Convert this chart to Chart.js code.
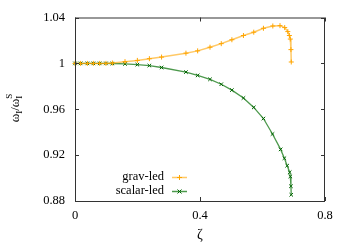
<!DOCTYPE html>
<html>
<head>
<meta charset="utf-8">
<script src="https://cdn.jsdelivr.net/npm/chart.js@4"></script>
<style>
  html, body { margin: 0; padding: 0; background: #fff; }
  canvas { display: block; }
</style>
</head>
<body>
<canvas id="chart" width="350" height="245"></canvas>
<script>
// values
const gravZeta = [0, 0.018, 0.0395, 0.0587, 0.079, 0.099, 0.1195, 0.16, 0.1995, 0.238, 0.277,
  0.355, 0.3925, 0.432, 0.468, 0.502, 0.539, 0.572, 0.603, 0.633, 0.656, 0.671, 0.681,
  0.686, 0.689, 0.691, 0.692];
const gravOmega = [1.0, 1.0, 1.0, 1.0, 1.0, 1.0, 1.0003, 1.0015, 1.0026, 1.0041, 1.0055,
  1.0089, 1.0109, 1.0141, 1.0172, 1.0206, 1.0243, 1.0272, 1.0306, 1.0326, 1.0329, 1.0312, 1.0277,
  1.0243, 1.0212, 1.0120, 1.0012];

const scalarZeta = [0, 0.018, 0.0395, 0.0587, 0.079, 0.099, 0.1195, 0.16, 0.1995, 0.238, 0.277,
  0.355, 0.3925, 0.432, 0.468, 0.502, 0.539, 0.572, 0.603, 0.632, 0.658, 0.670, 0.679,
  0.687, 0.689, 0.691, 0.692];
const scalarOmega = [1.0, 1.0, 1.0, 1.0, 1.0, 1.0, 0.9999, 0.9995, 0.9989, 0.9981, 0.9964,
  0.9924, 0.9895, 0.9861, 0.9818, 0.9767, 0.9698, 0.9616, 0.9519, 0.9384, 0.9250, 0.9173, 0.9108,
  0.9051, 0.9014, 0.8929, 0.8854];

const xTicks = [0, 0.4, 0.8];
const yTicks = [0.88, 0.92, 0.96, 1, 1.04];
const seriesNames = ['grav-led', 'scalar-led'];

const ORANGE = '#ffa500';
const ORANGE_LINE = 'rgba(255,165,0,0.6)';
const GREEN = '#006400';
const GREEN_LINE = 'rgba(0,110,0,0.7)';
const FONT = '"Liberation Serif", "DejaVu Serif", serif';

function toPoints(xs, ys) {
  return xs.map((x, i) => ({ x: x, y: ys[i] }));
}

// border, mirrored inward ticks, axis titles and key, gnuplot style
const framePlugin = {
  id: 'frame',
  afterDraw(chart) {
    const ctx = chart.ctx;
    const a = chart.chartArea;
    const xs = chart.scales.x;
    const ys = chart.scales.y;
    ctx.save();
    ctx.strokeStyle = '#333';
    ctx.lineWidth = 1;
    ctx.strokeRect(a.left + 0.5, a.top + 0.5, a.right - a.left - 1, a.bottom - a.top);
    ctx.beginPath();
    const tl = 4;
    xTicks.forEach(v => {
      const px = Math.round(xs.getPixelForValue(v)) + 0.5;
      ctx.moveTo(px, a.bottom); ctx.lineTo(px, a.bottom - tl);
      ctx.moveTo(px, a.top); ctx.lineTo(px, a.top + tl);
    });
    yTicks.forEach(v => {
      const py = Math.round(ys.getPixelForValue(v)) + 0.5;
      ctx.moveTo(a.left, py); ctx.lineTo(a.left + tl, py);
      ctx.moveTo(a.right, py); ctx.lineTo(a.right - tl, py);
    });
    ctx.stroke();

    // x title
    ctx.fillStyle = '#000';
    ctx.font = '14px ' + FONT;
    ctx.textAlign = 'center';
    ctx.textBaseline = 'middle';
    ctx.fillText('ζ', (a.left + a.right) / 2, 235);

    // y title: ω_I / ω_I^S, rotated
    ctx.save();
    ctx.translate(19, 108);
    ctx.rotate(-Math.PI / 2);
    ctx.textBaseline = 'alphabetic';
    ctx.textAlign = 'left';
    const big = '13px ' + FONT, small = '9px ' + FONT;
    const parts = [
      { t: 'ω', f: big, dy: 0 },
      { t: 'I', f: small, dy: 3 },
      { t: '/ω', f: big, dy: 0 },
      { t: 'I', f: small, dy: 3, keep: true },
      { t: 'S', f: small, dy: -7 }
    ];
    parts.forEach(p => { ctx.font = p.f; p.w = ctx.measureText(p.t).width; });
    const w = parts[0].w + parts[1].w + parts[2].w + Math.max(parts[3].w, parts[4].w);
    let x = -w / 2;
    parts.forEach(p => {
      ctx.font = p.f;
      ctx.fillText(p.t, x, p.dy);
      if (!p.keep) x += p.w;
    });
    ctx.restore();

    // key
    ctx.font = '12.5px ' + FONT;
    ctx.textAlign = 'right';
    ctx.textBaseline = 'middle';
    const keyLines = [ORANGE_LINE, GREEN_LINE];
    const keyMarks = [ORANGE, GREEN];
    const keyRows = [177, 191];
    chart.data.datasets.forEach((ds, i) => {
      const ky = keyRows[i];
      ctx.fillStyle = '#000';
      ctx.fillText(seriesNames[i], 164, ky);
      ctx.strokeStyle = keyLines[i];
      ctx.lineWidth = 1.5;
      ctx.beginPath();
      ctx.moveTo(172, ky + 0.5); ctx.lineTo(187, ky + 0.5);
      ctx.stroke();
      const mx = 179.5;
      ctx.strokeStyle = keyMarks[i];
      ctx.lineWidth = 1;
      ctx.beginPath();
      if (i === 0) {
        ctx.moveTo(mx - 2.5, ky + 0.5); ctx.lineTo(mx + 2.5, ky + 0.5);
        ctx.moveTo(mx, ky - 2); ctx.lineTo(mx, ky + 3);
      } else {
        ctx.moveTo(mx - 2, ky - 1.5); ctx.lineTo(mx + 2, ky + 2.5);
        ctx.moveTo(mx - 2, ky + 2.5); ctx.lineTo(mx + 2, ky - 1.5);
      }
      ctx.stroke();
    });
    ctx.restore();
  }
};

const ctx = document.getElementById('chart').getContext('2d');
new Chart(ctx, {
  type: 'scatter',
  data: {
    datasets: [
      {
        label: seriesNames[0],
        data: toPoints(gravZeta, gravOmega),
        showLine: true,
        borderColor: ORANGE_LINE,
        backgroundColor: ORANGE,
        borderWidth: 1.5,
        pointStyle: 'cross',
        pointRadius: 2.5,
        pointBorderWidth: 1,
        pointBorderColor: ORANGE,
        tension: 0,
        clip: false
      },
      {
        label: seriesNames[1],
        data: toPoints(scalarZeta, scalarOmega),
        showLine: true,
        borderColor: GREEN_LINE,
        backgroundColor: GREEN,
        borderWidth: 1.3,
        pointStyle: 'crossRot',
        pointRadius: 2.5,
        pointBorderWidth: 1,
        pointBorderColor: GREEN,
        tension: 0,
        clip: false
      }
    ]
  },
  options: {
    responsive: false,
    animation: false,
    devicePixelRatio: 1,
    layout: { padding: { top: 14, right: 25, left: 0, bottom: 0 } },
    plugins: {
      legend: { display: false },
      tooltip: { enabled: false }
    },
    scales: {
      x: {
        type: 'linear',
        min: 0,
        max: 0.8,
        afterFit: s => { s.height = 44; },
        afterBuildTicks: s => { s.ticks = xTicks.map(v => ({ value: v })); },
        grid: { display: false, drawTicks: false },
        border: { display: false },
        ticks: {
          padding: 7,
          color: '#000',
          font: { family: FONT, size: 12.5 },
          callback: v => String(parseFloat(v.toFixed(2)))
        }
      },
      y: {
        type: 'linear',
        min: 0.88,
        max: 1.04,
        afterFit: s => { s.width = 75; },
        afterBuildTicks: s => { s.ticks = yTicks.map(v => ({ value: v })); },
        grid: { display: false, drawTicks: false },
        border: { display: false },
        ticks: {
          padding: 10,
          color: '#000',
          font: { family: FONT, size: 12.5 },
          callback: v => String(parseFloat(v.toFixed(2)))
        }
      }
    }
  },
  plugins: [framePlugin]
});
</script>
</body>
</html>
